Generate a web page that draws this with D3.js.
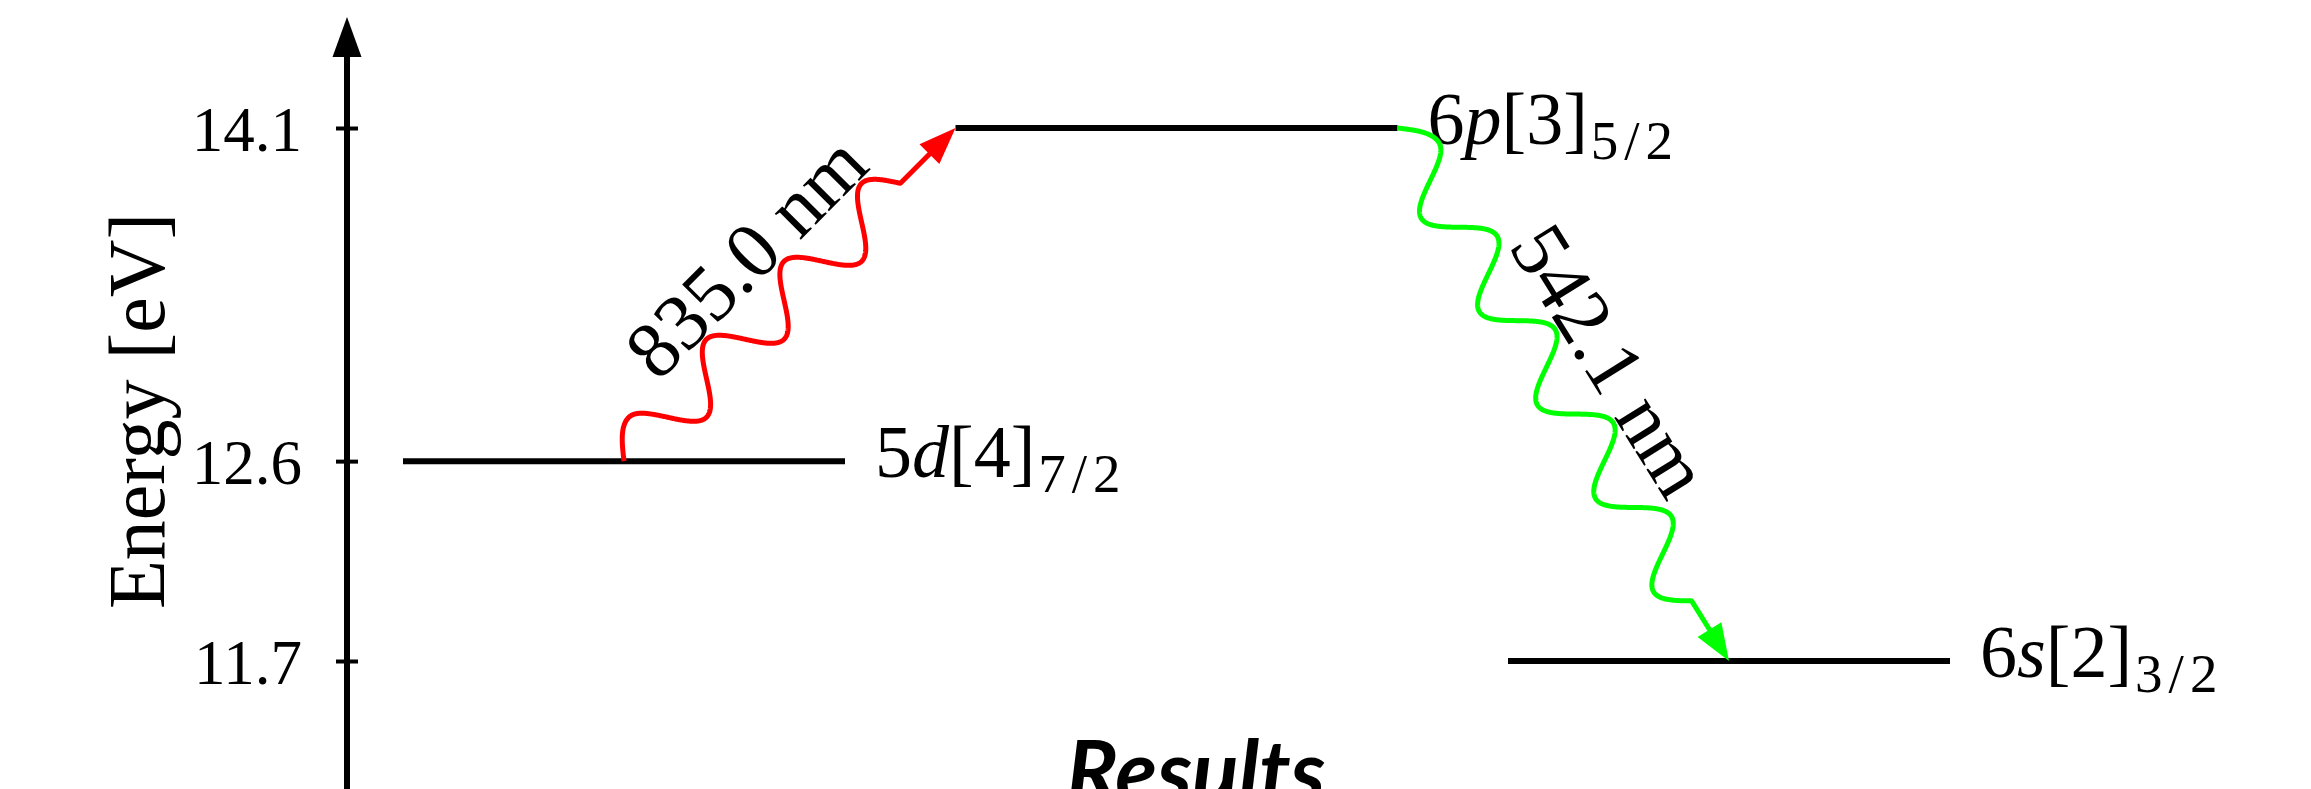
<!DOCTYPE html>
<html>
<head>
<meta charset="utf-8">
<script src="https://cdn.jsdelivr.net/npm/d3@7"></script>
<style>
  html, body { margin: 0; padding: 0; background: #fff; overflow: hidden; }
  svg { display: block; }
</style>
</head>
<body>
<svg id="chart" width="2311" height="789"></svg>
<script>
// ---- Energy levels -------------------------------------------------------
const levelShell    = ["5", "6", "6"];
const levelOrbital  = ["d", "p", "s"];
const levelK        = ["[4]", "[3]", "[2]"];
const levelJ        = ["7/2", "5/2", "3/2"];
const levelEnergy   = [12.6, 14.1, 11.7];      // eV
const levelSlot     = [0, 5, 10];              // left end of each level, in column units
const levelSpan     = 4;                       // width of a level, in column units

// ---- Transitions (photon emission / absorption) --------------------------
const transFrom       = [0, 1];                // index into the level arrays
const transTo         = [1, 2];
const transFromCol    = [2, 9];                // column where the wiggle starts
const transToCol      = [5, 12];               // column where the arrow tip lands
const transWavelength = ["835.0 nm", "542.1 nm"];
const transColor      = ["#ff0000", "#00ff00"];

// ---- Axis ----------------------------------------------------------------
const energyTicks = [11.7, 12.6, 14.1];
const axisTop     = 14.6;
const axisBottom  = 11.0;

const svg = d3.select("#chart");
const serif = "'Liberation Serif', 'Times New Roman', serif";

const y = d3.scaleLinear().domain([11.7, 14.1]).range([661, 128]);
const x = d3.scaleLinear().domain([0, 14]).range([403, 1950]);
const axisX = 347;

// ---- Vertical energy axis with arrow -------------------------------------
const tipLen = 40, tipW = 29;
svg.append("line")
  .attr("x1", axisX).attr("x2", axisX)
  .attr("y1", y(axisBottom)).attr("y2", y(axisTop) + tipLen - 2)
  .attr("stroke", "#000").attr("stroke-width", 6);
svg.append("path")
  .attr("d", d3.line()([[axisX, y(axisTop)], [axisX - tipW / 2, y(axisTop) + tipLen], [axisX + tipW / 2, y(axisTop) + tipLen]]) + "Z")
  .attr("fill", "#000");

const axis = d3.axisLeft(y)
  .tickValues(energyTicks)
  .tickFormat(d3.format(".1f"))
  .tickSize(11)
  .tickPadding(34);

const gAxis = svg.append("g")
  .attr("transform", `translate(${axisX},0)`)
  .call(axis);
gAxis.select(".domain").remove();
gAxis.selectAll(".tick line")
  .attr("x1", -11).attr("x2", 11)
  .attr("stroke", "#000").attr("stroke-width", 4);
gAxis.selectAll(".tick text")
  .attr("font-family", serif)
  .attr("font-size", 63)
  .attr("fill", "#000")
  .attr("dy", "0.35em");

svg.append("text")
  .attr("transform", `translate(164,411) rotate(-90)`)
  .attr("text-anchor", "middle")
  .attr("font-family", serif)
  .attr("font-size", 80)
  .attr("fill", "#000")
  .text("Energy [eV]");

// ---- Level lines and term labels -----------------------------------------
const levels = levelEnergy.map((e, i) => ({ i, e }));

svg.selectAll("line.level")
  .data(levels)
  .join("line")
  .attr("class", "level")
  .attr("x1", d => x(levelSlot[d.i]))
  .attr("x2", d => x(levelSlot[d.i] + levelSpan))
  .attr("y1", d => y(d.e)).attr("y2", d => y(d.e))
  .attr("stroke", "#000").attr("stroke-width", 6);

const terms = svg.selectAll("text.term")
  .data(levels)
  .join("text")
  .attr("class", "term")
  .attr("x", d => x(levelSlot[d.i] + levelSpan) + 30)
  .attr("y", d => y(d.e) + 16)
  .attr("font-family", serif)
  .attr("font-size", 74)
  .attr("fill", "#000");
terms.append("tspan").text(d => levelShell[d.i]);
terms.append("tspan").attr("font-style", "italic").text(d => levelOrbital[d.i]);
terms.append("tspan").text(d => levelK[d.i]);
terms.append("tspan")
  .attr("font-size", 55)
  .attr("dx", 3)
  .attr("dy", 15)
  .attr("letter-spacing", 6)
  .text(d => levelJ[d.i]);

// ---- Wavy photon arrows ---------------------------------------------------
// Sine "snake" along the straight segment p0 -> p1, with a straight run and
// a triangular head at the end.
const segLen = 110, amp = segLen / 4, headLen = 37, headW = 28;

function snake(p0, p1) {
  const dx = p1[0] - p0[0], dy = p1[1] - p0[1];
  const len = Math.hypot(dx, dy);
  const ux = dx / len, uy = dy / len;
  const nx = uy, ny = -ux;               // left-hand normal on screen
  const at = (t, o) => [p0[0] + ux * t + nx * o, p0[1] + uy * t + ny * o];
  const usable = len - headLen;
  const t0 = 0.3125 * segLen;
  let n = 0;
  while (usable - (t0 + n * 0.5 * segLen) >= 0.8125 * segLen) n++;
  const tEnd = t0 + n * 0.5 * segLen + 0.25 * segLen;
  const pts = [];
  for (let t = 0; t < t0; t += 0.5) pts.push(at(t, amp * Math.sin(Math.PI / 2 * t / t0)));
  for (let t = t0; t < tEnd; t += 0.5) pts.push(at(t, amp * Math.cos(2 * Math.PI * (t - t0) / segLen)));
  pts.push(at(tEnd, 0));
  pts.push(at(usable + 2, 0));
  const head = [at(len, 0), at(usable, headW / 2), at(usable, -headW / 2)];
  const angle = Math.atan2(uy, ux) * 180 / Math.PI;
  const mid = at(len / 2 - 4, 31);
  return { pts, head, angle, mid };
}

const trans = transFrom.map((f, i) => {
  const p0 = [x(transFromCol[i]), y(levelEnergy[f])];
  const p1 = [x(transToCol[i]), y(levelEnergy[transTo[i]])];
  return Object.assign({ i }, snake(p0, p1));
});

const gT = svg.selectAll("g.transition")
  .data(trans)
  .join("g")
  .attr("class", "transition");

gT.append("path")
  .attr("d", d => d3.line()(d.pts))
  .attr("fill", "none")
  .attr("stroke", d => transColor[d.i])
  .attr("stroke-width", 5)
  .attr("stroke-linejoin", "round");

gT.append("path")
  .attr("d", d => d3.line()(d.head) + "Z")
  .attr("fill", d => transColor[d.i]);

gT.append("text")
  .attr("transform", d => `translate(${d.mid[0]},${d.mid[1]}) rotate(${d.angle})`)
  .attr("text-anchor", "middle")
  .attr("font-family", serif)
  .attr("font-size", 80)
  .attr("fill", "#000")
  .text(d => transWavelength[d.i]);

// ---- Slide caption ---------------------------------------------------------
svg.append("text")
  .attr("x", 1196)
  .attr("y", 802)
  .attr("text-anchor", "middle")
  .attr("font-family", "Lato, 'Open Sans', sans-serif")
  .attr("font-weight", "bold")
  .attr("font-style", "italic")
  .attr("font-size", 86)
  .attr("fill", "#000")
  .text("Results");
</script>
</body>
</html>
